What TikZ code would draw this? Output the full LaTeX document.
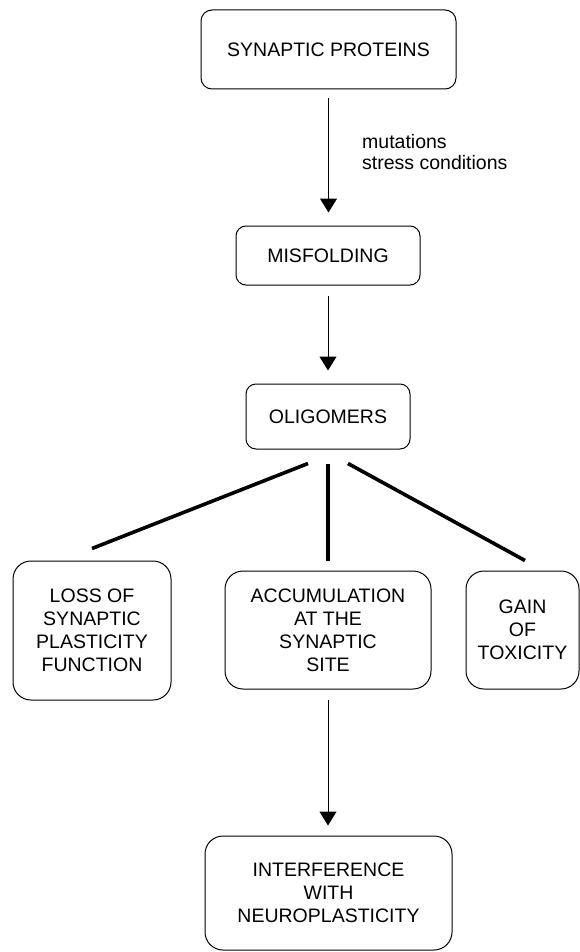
\documentclass[tikz,border=0pt]{standalone}
\usepackage{fontspec}
\setmainfont{Liberation Sans}
\usetikzlibrary{arrows.meta}
\begin{document}
\begin{tikzpicture}[x=1pt,y=-1pt,
  box/.style={draw, line width=1pt, inner sep=0pt, align=center,
    font=\fontsize{19.5}{23}\selectfont},
  arr/.style={line width=1pt, -{Triangle[width=17pt,length=14pt]}},
  branch/.style={line width=3.6pt},
  lbl/.style={inner sep=0pt, align=left, anchor=west, font=\fontsize{19.5}{20.5}\selectfont}]
\useasboundingbox (0,0) rectangle (580,952);
\node[box, rounded corners=11pt, minimum width=255pt, minimum height=79pt] (sp) at (328.5,49.5) {SYNAPTIC PROTEINS};
\node[box, rounded corners=10pt, minimum width=184pt, minimum height=59pt] (mis) at (328,255.5) {MISFOLDING};
\node[box, rounded corners=10pt, minimum width=164pt, minimum height=65pt] (oli) at (328,416.5) {OLIGOMERS};
\node[box, rounded corners=18pt, minimum width=158pt, minimum height=139pt] (loss) at (92,630.5) {LOSS OF\\SYNAPTIC\\PLASTICITY\\FUNCTION};
\node[box, rounded corners=18pt, minimum width=206pt, minimum height=118pt] (acc) at (328,630) {ACCUMULATION\\AT THE\\SYNAPTIC\\SITE};
\node[box, rounded corners=18pt, minimum width=113pt, minimum height=118pt] (gain) at (522.5,630) {GAIN\\OF\\TOXICITY};
\node[box, rounded corners=18pt, minimum width=247pt, minimum height=114pt] (intf) at (328.5,893) {INTERFERENCE\\WITH\\NEUROPLASTICITY};
\node[lbl] (cause) at (362,152) {mutations\\stress conditions};
\draw[arr, shorten <=9pt, shorten >=13pt] (sp.south) -- (sp.south |- mis.north);
\draw[arr, shorten <=10pt, shorten >=13pt] (mis.south) -- (mis.south |- oli.north);
\draw[arr, shorten <=10pt, shorten >=10pt] (acc.south) -- (acc.south |- intf.north);
\draw[branch] ([xshift=-20pt,yshift=-14pt]oli.south) -- ([yshift=12pt]loss.north);
\draw[branch] ([yshift=-14pt]oli.south) -- ([yshift=10pt]acc.north);
\draw[branch] ([xshift=20pt,yshift=-14pt]oli.south) -- ([xshift=2.5pt,yshift=10pt]gain.north);
\end{tikzpicture}
\end{document}
